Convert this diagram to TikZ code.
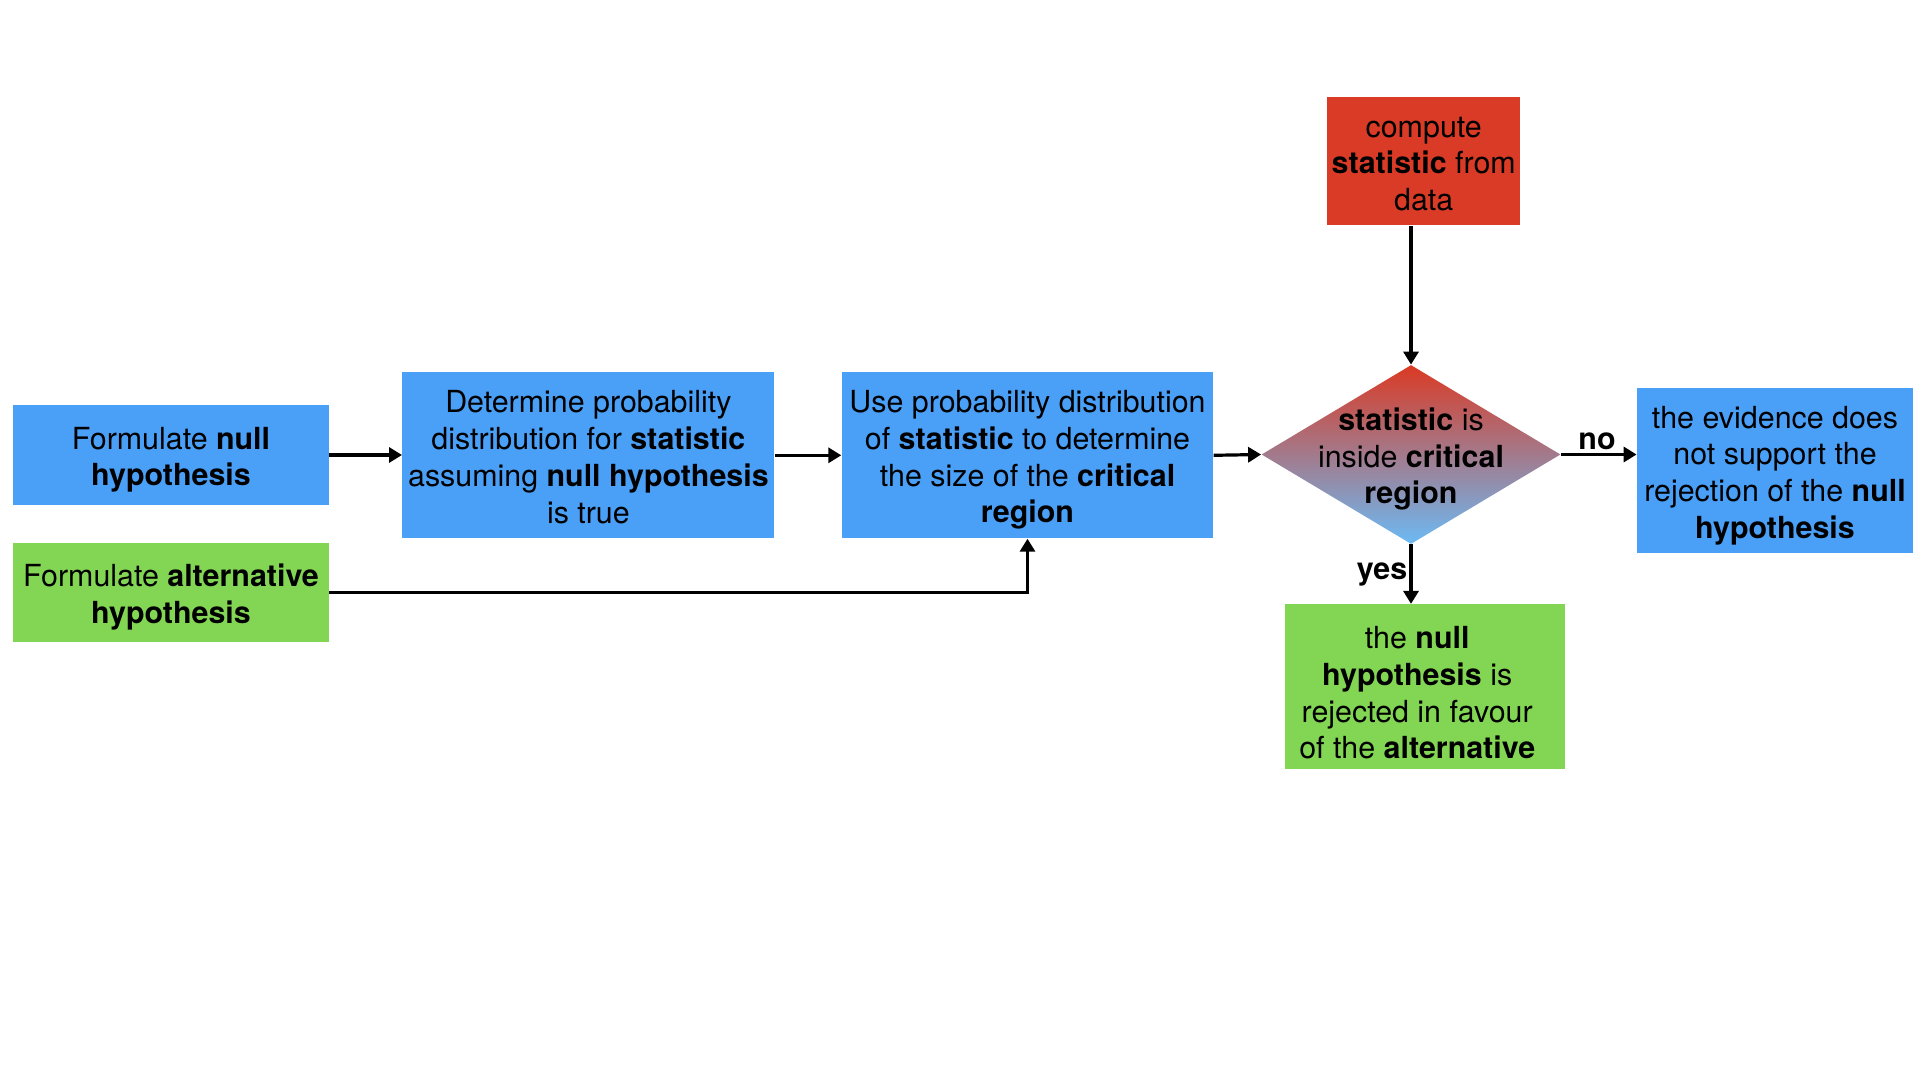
\documentclass[tikz,border=0pt]{standalone}
\usepackage{fontspec}
\setmainfont{TeX Gyre Heros}
\usetikzlibrary{shapes.geometric,arrows.meta}
\definecolor{boxblue}{RGB}{74,159,247}
\definecolor{boxgreen}{RGB}{131,214,84}
\definecolor{boxred}{RGB}{217,59,39}
\definecolor{diatop}{RGB}{218,58,36}
\definecolor{diabot}{RGB}{108,186,244}
\newcommand{\mytopst}{\rule{0pt}{15.9pt}}
\newcommand{\mybotst}{\rule[-3.2pt]{0pt}{3.2pt}}
\tikzset{
  txt/.style={font=\fontsize{15.2pt}{18.35pt}\selectfont},
  box/.style={txt, rectangle, inner sep=0pt, align=center},
  bluebox/.style={box, fill=boxblue},
  greenbox/.style={box, fill=boxgreen},
  redbox/.style={box, fill=boxred},
  conn/.style={-{Triangle[length=6.5pt,width=7.5pt]}, line width=1.6pt},
  lbl/.style={txt, font=\fontsize{15.2pt}{18.35pt}\selectfont\bfseries, inner sep=0pt}
}
\begin{document}
\begin{tikzpicture}[x=0.5pt,y=-0.5pt]
\useasboundingbox (0,0) rectangle (1920,1080);
\fill[white] (0,0) rectangle (1920,1080);

\node[bluebox, minimum width=157.75pt, minimum height=50pt] (nullh) at (171,455)
  {\mytopst Formulate \textbf{null}\\\textbf{hypothesis}\mybotst};
\node[greenbox, minimum width=157.75pt, minimum height=49.75pt] (alth) at (171,592.3)
  {\mytopst Formulate \textbf{alternative}\\\textbf{hypothesis}\mybotst};
\node[bluebox, minimum width=186pt, minimum height=83pt] (dist) at (588.4,455.3)
  {\mytopst Determine probability\\distribution for \textbf{statistic}\\assuming \textbf{null hypothesis}\\is true\mybotst};
\node[bluebox, minimum width=185.8pt, minimum height=83pt] (crit) at (1027.5,455.3)
  {\mytopst Use probability distribution\\of \textbf{statistic} to determine\\the size of the \textbf{critical}\\\textbf{region}\mybotst};
\node[redbox, minimum width=96.65pt, minimum height=64pt] (comp) at (1423.7,161.3)
  {\mytopst compute\\\textbf{statistic} from\\data\mybotst};
\node[diamond, minimum width=149.5pt, minimum height=89.5pt, inner sep=0pt,
      top color=diatop, bottom color=diabot, draw=none] (dia) at (1411,454.5) {};
\node[box] (diatext) at (dia.center)
  {\mytopst\textbf{statistic} is\\inside \textbf{critical}\\\textbf{region}\mybotst};
\node[bluebox, minimum width=138pt, minimum height=82.8pt] (notrej) at (1775,470.5)
  {\mytopst the evidence does\\not support the\\rejection of the \textbf{null}\\\textbf{hypothesis}\mybotst};
\node[rectangle, fill=boxgreen, inner sep=0pt, minimum width=140pt, minimum height=82.5pt] (rej) at (1424.7,686.8) {};
\node[box, xshift=-3.75pt, yshift=-2.2pt] (rejtext) at (rej.center)
  {\mytopst the \textbf{null}\\\textbf{hypothesis} is\\rejected in favour\\of the \textbf{alternative}\mybotst};

\draw[conn] (nullh.east) -- (nullh.east -| dist.west);
\draw[conn] (dist.east) -- (crit.west);
\draw[conn] (crit.east) -- (dia.west);
\draw[conn] (alth.east) -| (crit.south);
\draw[conn] (comp.south -| dia.north) -- (dia.north);
\draw[conn] (dia.east) -- (dia.east -| notrej.west);
\draw[conn] (dia.south) -- (dia.south |- rej.north);

\node[lbl] (nolbl) at (1597,441) {no};
\node[lbl] (yeslbl) at (1382,574) {yes};
\end{tikzpicture}
\end{document}
